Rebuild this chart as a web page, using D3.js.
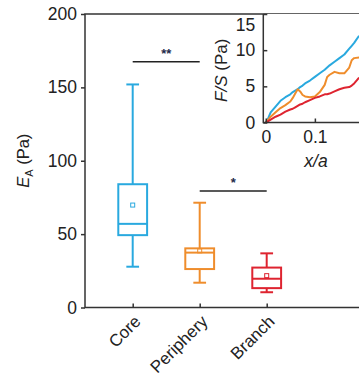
<!DOCTYPE html>
<html>
<head>
<meta charset="utf-8">
<script src="https://cdn.jsdelivr.net/npm/d3@7"></script>
<style>
  body { margin: 0; background: #fff; }
  svg { display: block; font-family: "Liberation Sans", Arial, sans-serif; }
</style>
</head>
<body>
<div id="chart"></div>
<script>
// box plot data (Pa)
const categories = ["Core", "Periphery", "Branch"];
const whiskerLow = [27.8, 16.9, 10.4];
const q1 = [49.3, 26.2, 13.2];
const median = [57, 37.4, 19.6];
const q3 = [84, 40.3, 27.2];
const whiskerHigh = [152, 71.4, 36.9];
const means = [69.8, 38.6, 21.7];
const colors = ["#29a9df", "#ef8d2c", "#de2430"];
const yTicks = [0, 50, 100, 150, 200];

// significance brackets
const sigFrom = ["Core", "Periphery"];
const sigTo = ["Periphery", "Branch"];
const sigLevel = [167.5, 79.4];
const sigLabel = ["**", "*"];

// inset F/S vs x/a
const insetX = [0, 0.005, 0.01, 0.02, 0.03, 0.04, 0.05, 0.055, 0.06, 0.065, 0.07, 0.075, 0.08, 0.09, 0.10, 0.11, 0.12, 0.125, 0.13, 0.14, 0.15, 0.16, 0.17, 0.175, 0.18, 0.19];
const insetCore = [0, 0.6, 1.4, 2.2, 3.0, 3.5, 3.9, 4.2, 4.4, 4.6, 4.9, 5.1, 5.4, 5.8, 6.3, 6.8, 7.3, 7.6, 7.9, 8.4, 8.9, 9.4, 10.2, 10.6, 11.0, 12.0];
const insetPeriphery = [0, 0.4, 0.8, 1.4, 2.0, 2.4, 2.9, 3.4, 4.0, 4.6, 4.3, 3.8, 3.6, 3.5, 3.6, 4.2, 5.2, 6.3, 6.6, 7.0, 6.8, 6.8, 7.6, 8.6, 8.9, 9.0];
const insetBranch = [0, 0.2, 0.4, 0.8, 1.1, 1.5, 1.8, 1.9, 2.1, 2.3, 2.5, 2.6, 2.8, 3.1, 3.4, 3.6, 3.9, 3.9, 4.0, 4.3, 4.6, 4.8, 4.9, 5.1, 5.4, 6.2];
const insetTicksX = [0, 0.1];
const insetTicksY = [0, 5, 10, 15];

const W = 359, H = 378;
const frame = { left: 85, right: 420, top: 14, bottom: 307.5 };
const ink = "#222";
const tickFont = 17.5;

const svg = d3.select("#chart").append("svg")
  .attr("width", W)
  .attr("height", H);

const x = d3.scalePoint()
  .domain(categories)
  .range([132.7, 266.7]);

const y = d3.scaleLinear()
  .domain([0, 200])
  .range([frame.bottom, frame.top]);

// frame
svg.append("path")
  .attr("d", `M${frame.right},${frame.top}H${frame.left}V${frame.bottom}H${frame.right}`)
  .attr("fill", "none")
  .attr("stroke", "#333")
  .attr("stroke-width", 1.5);

// y axis
const yAxis = svg.append("g")
  .attr("transform", `translate(${frame.left},0)`)
  .call(d3.axisLeft(y).tickValues(yTicks).tickSize(4).tickPadding(4).tickSizeOuter(0));
yAxis.select(".domain").remove();
yAxis.selectAll("line").attr("stroke", "#333").attr("stroke-width", 1.5);
yAxis.selectAll("text").attr("font-size", tickFont).attr("fill", ink).attr("font-family", null);

// x ticks (inward)
const xAxis = svg.append("g")
  .attr("transform", `translate(0,${frame.bottom})`)
  .call(d3.axisBottom(x).tickSize(-4).tickSizeOuter(0).tickFormat(""));
xAxis.select(".domain").remove();
xAxis.selectAll("line").attr("stroke", "#333").attr("stroke-width", 1.5);

// rotated category labels
svg.append("g").selectAll("text")
  .data(categories)
  .join("text")
  .attr("transform", d => `translate(${x(d) + 9},${frame.bottom + 15}) rotate(-45)`)
  .attr("text-anchor", "end")
  .attr("font-size", 17)
  .attr("fill", ink)
  .text(d => d);

// y label
const yLab = svg.append("text")
  .attr("transform", `translate(29,${(frame.top + frame.bottom) / 2}) rotate(-90)`)
  .attr("text-anchor", "middle")
  .attr("font-size", 16.5)
  .attr("fill", ink);
yLab.append("tspan").attr("font-style", "italic").text("E");
yLab.append("tspan").attr("font-size", 11).attr("dy", 4).text("A");
yLab.append("tspan").attr("dy", -4).text(" (Pa)");

// box plots
const step = x.step();
const boxW = step * 0.43;
const capW = step * 0.19;
const boxes = svg.append("g").selectAll("g")
  .data(categories)
  .join("g")
  .attr("stroke", (d, i) => colors[i])
  .attr("stroke-width", 2)
  .attr("fill", "none");

boxes.append("line")
  .attr("x1", d => x(d)).attr("x2", d => x(d))
  .attr("y1", (d, i) => y(whiskerHigh[i])).attr("y2", (d, i) => y(q3[i]));
boxes.append("line")
  .attr("x1", d => x(d)).attr("x2", d => x(d))
  .attr("y1", (d, i) => y(q1[i])).attr("y2", (d, i) => y(whiskerLow[i]));
boxes.append("line")
  .attr("x1", d => x(d) - capW / 2).attr("x2", d => x(d) + capW / 2)
  .attr("y1", (d, i) => y(whiskerHigh[i])).attr("y2", (d, i) => y(whiskerHigh[i]));
boxes.append("line")
  .attr("x1", d => x(d) - capW / 2).attr("x2", d => x(d) + capW / 2)
  .attr("y1", (d, i) => y(whiskerLow[i])).attr("y2", (d, i) => y(whiskerLow[i]));
boxes.append("rect")
  .attr("x", d => x(d) - boxW / 2)
  .attr("width", boxW)
  .attr("y", (d, i) => y(q3[i]))
  .attr("height", (d, i) => y(q1[i]) - y(q3[i]));
boxes.append("line")
  .attr("x1", d => x(d) - boxW / 2).attr("x2", d => x(d) + boxW / 2)
  .attr("y1", (d, i) => y(median[i])).attr("y2", (d, i) => y(median[i]));
boxes.append("rect")
  .attr("stroke-width", 1)
  .attr("x", d => x(d) - 2).attr("width", 4)
  .attr("y", (d, i) => y(means[i]) - 2).attr("height", 4);

// significance
const sig = svg.append("g");
sigLabel.forEach((lab, i) => {
  sig.append("line")
    .attr("x1", x(sigFrom[i])).attr("x2", x(sigTo[i]))
    .attr("y1", y(sigLevel[i])).attr("y2", y(sigLevel[i]))
    .attr("stroke", "#222").attr("stroke-width", 1.5);
  sig.append("text")
    .attr("x", (x(sigFrom[i]) + x(sigTo[i])) / 2)
    .attr("y", y(sigLevel[i]) - 4)
    .attr("text-anchor", "middle")
    .attr("font-size", 13)
    .attr("font-weight", "bold")
    .attr("fill", "#1e2b4a")
    .text(lab);
});

// inset
const ix = d3.scaleLinear().domain([-0.005, 0.2]).range([263.3, 364]);
const iy = d3.scaleLinear().domain([0, 15]).range([122.5, 14]);
const inset = svg.append("g");

inset.append("rect")
  .attr("x", ix.range()[0]).attr("y", iy.range()[1])
  .attr("width", W - ix.range()[0]).attr("height", iy.range()[0] - iy.range()[1])
  .attr("fill", "#fff");

const insetSeries = [insetCore, insetPeriphery, insetBranch];
const line = d3.line()
  .x((d, i) => ix(insetX[i]))
  .y(d => iy(d));
insetSeries.forEach((s, k) => {
  inset.append("path")
    .datum(s)
    .attr("d", line)
    .attr("fill", "none")
    .attr("stroke", colors[k])
    .attr("stroke-width", 2)
    .attr("stroke-linejoin", "round");
});

inset.append("path")
  .attr("d", `M${ix.range()[0]},${iy.range()[1]}V${iy.range()[0]}H${W + 10}`)
  .attr("fill", "none")
  .attr("stroke", "#333")
  .attr("stroke-width", 1.5);

const iyAxis = inset.append("g")
  .attr("transform", `translate(${ix.range()[0]},0)`)
  .call(d3.axisLeft(iy).tickValues(insetTicksY).tickSizeInner(-4).tickSizeOuter(0).tickPadding(8));
iyAxis.select(".domain").remove();
iyAxis.selectAll("line").attr("stroke", "#333").attr("stroke-width", 1.5);
iyAxis.selectAll("text").attr("font-size", tickFont).attr("fill", ink).attr("font-family", null)
  .attr("dy", d => d === 15 ? "0.95em" : "0.32em");

const ixAxis = inset.append("g")
  .attr("transform", `translate(0,${iy.range()[0]})`)
  .call(d3.axisBottom(ix).tickValues(insetTicksX).tickSizeInner(-4).tickSizeOuter(0).tickPadding(8).tickFormat(d3.format("")));
ixAxis.select(".domain").remove();
ixAxis.selectAll("line").attr("stroke", "#333").attr("stroke-width", 1.5);
ixAxis.selectAll("text").attr("font-size", tickFont).attr("fill", ink).attr("font-family", null);

inset.append("text")
  .attr("x", 316).attr("y", 167)
  .attr("text-anchor", "middle")
  .attr("font-size", 17.5)
  .attr("font-style", "italic")
  .attr("fill", ink)
  .text("x/a");

const iyLab = inset.append("text")
  .attr("transform", `translate(227,${(iy.range()[0] + iy.range()[1]) / 2 + 2}) rotate(-90)`)
  .attr("text-anchor", "middle")
  .attr("font-size", 17)
  .attr("fill", ink);
iyLab.append("tspan").attr("font-style", "italic").text("F/S");
iyLab.append("tspan").text(" (Pa)");
</script>
</body>
</html>
